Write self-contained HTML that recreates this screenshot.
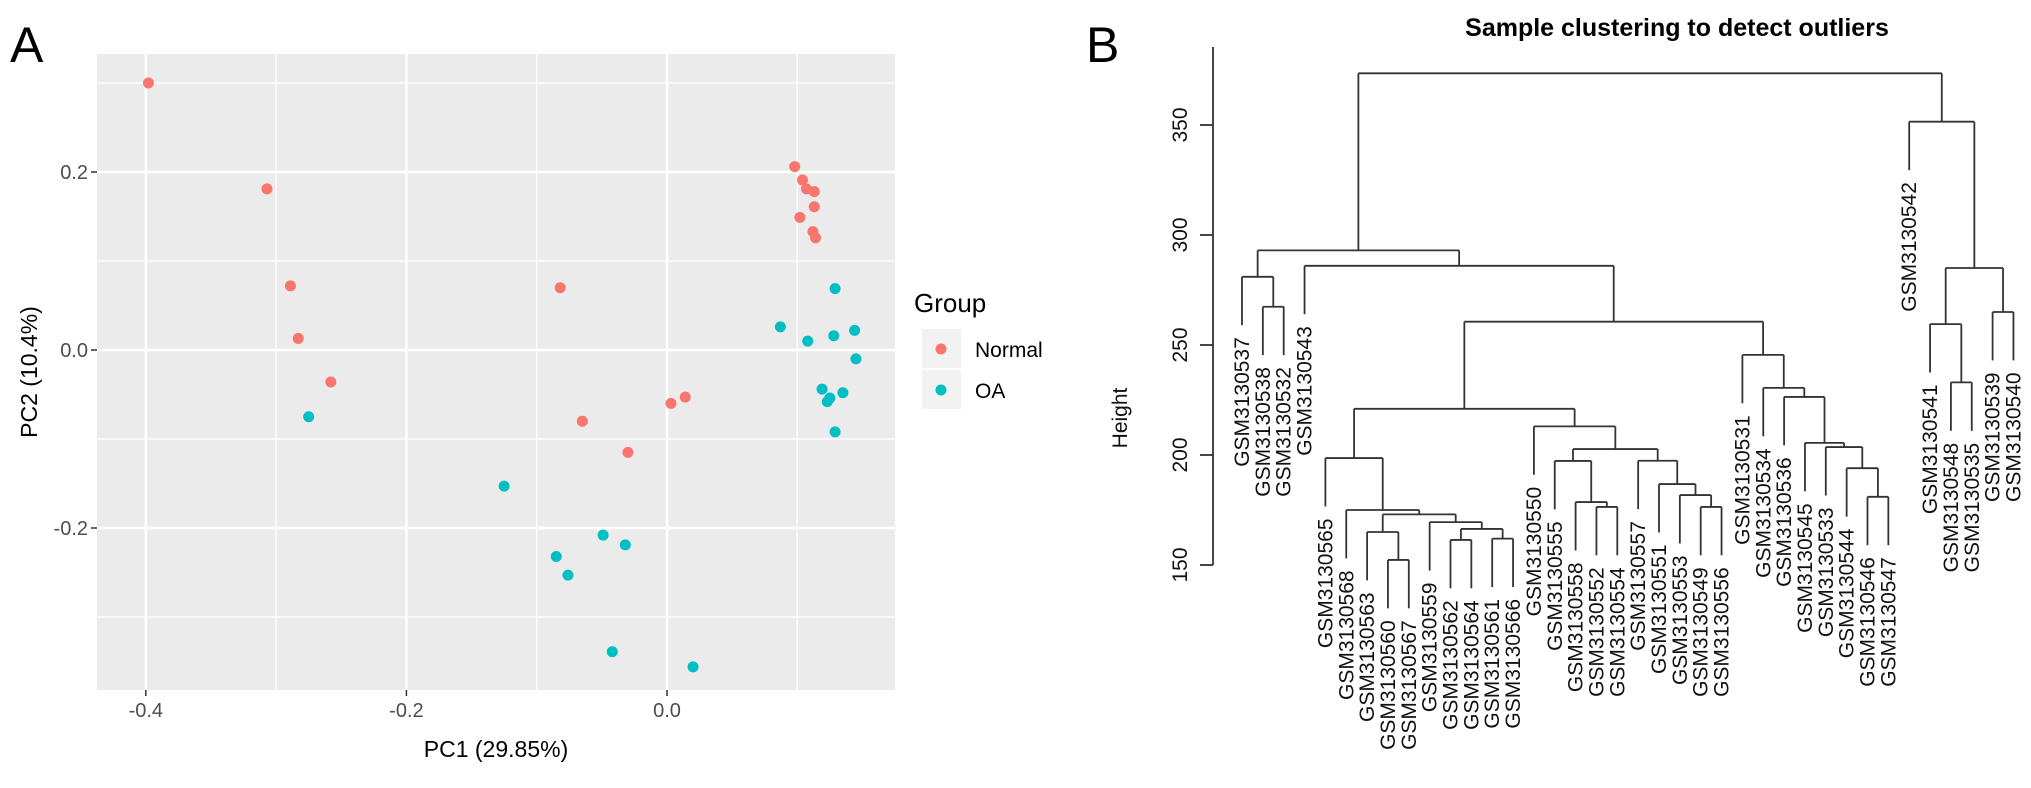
<!DOCTYPE html>
<html><head><meta charset="utf-8"><style>
body{margin:0;background:#fff;}
svg{display:block;font-family:"Liberation Sans",Arial,sans-serif;}
</style></head><body>
<svg id="fig" width="2031" height="788" viewBox="0 0 2031 788">
<text x="10" y="62" font-size="50">A</text>
<text x="1086" y="62" font-size="50">B</text>
<g id="pca"></g>
<g id="dend"></g>
</svg>
<script>
// ---------- Panel A data ----------
const normalX=[-0.398,-0.307,-0.289,-0.283,-0.258,-0.082,-0.065,-0.030,0.003,0.014,0.098,0.104,0.107,0.113,0.113,0.102,0.112,0.114];
const normalY=[0.300,0.181,0.072,0.013,-0.036,0.070,-0.080,-0.115,-0.060,-0.053,0.206,0.191,0.181,0.178,0.161,0.149,0.133,0.126];
const oaX=[-0.275,-0.125,-0.049,-0.032,-0.085,-0.076,-0.042,0.020,0.087,0.129,0.108,0.128,0.144,0.145,0.119,0.135,0.125,0.123,0.129];
const oaY=[-0.075,-0.153,-0.208,-0.219,-0.232,-0.253,-0.339,-0.356,0.026,0.069,0.010,0.016,0.022,-0.010,-0.044,-0.048,-0.054,-0.058,-0.092];
const xTicks=[-0.4,-0.2,0.0];
const xTickLabels=["-0.4","-0.2","0.0"];
const yTicks=[-0.2,0.0,0.2];
const yTickLabels=["-0.2","0.0","0.2"];
const xMinor=[-0.3,-0.1,0.1];
const yMinor=[-0.3,-0.1,0.1,0.3];

// ---------- Panel B data ----------
const dendHeights=[150,200,250,300,350];
const tree=[[["GSM3130537",["GSM3130538","GSM3130532",267.4],281],
 ["GSM3130543",
  [[[ "GSM3130565",["GSM3130568",[["GSM3130563",["GSM3130560","GSM3130567",152.3],165],["GSM3130559",[["GSM3130562","GSM3130564",161.4],["GSM3130561","GSM3130566",162],166.4],169.5],173],175],198.6],
     ["GSM3130550",[["GSM3130555",["GSM3130558",["GSM3130552","GSM3130554",176.4],178.6],197.3],["GSM3130557",["GSM3130551",["GSM3130553",["GSM3130549","GSM3130556",176.4],181.8],186.8],197.4],202.7],213],221],
   ["GSM3130531",["GSM3130534",["GSM3130536",["GSM3130545",["GSM3130533",["GSM3130544",["GSM3130546","GSM3130547",181],194],203.6],205.5],226.4],230.5],245.5],260.6],286],293],
 ["GSM3130542",[["GSM3130541",["GSM3130548","GSM3130535",233],259.5],["GSM3130539","GSM3130540",265],285],351.5],373.5];
const hang=22;

const NS="http://www.w3.org/2000/svg";
function mk(parent,tag,attrs,text){const e=document.createElementNS(NS,tag);for(const k in attrs)e.setAttribute(k,attrs[k]);if(text!==undefined)e.textContent=text;parent.appendChild(e);return e;}

// ---------- Panel A ----------
const pca=document.getElementById('pca');
const PL=97,PR=895,PT=54,PB=690;
const sx=v=>667+v*1303;
const sy=v=>350-v*890;
const bg=mk(pca,'rect',{x:PL,y:PT,width:PR-PL,height:PB-PT,fill:'#EBEBEB'});


xMinor.forEach(v=>{const l=mk(pca,'line',{x1:sx(v),x2:sx(v),y1:PT,y2:PB,stroke:'#fff','stroke-width':1.2});

});
yMinor.forEach(v=>{const l=mk(pca,'line',{x1:PL,x2:PR,y1:sy(v),y2:sy(v),stroke:'#fff','stroke-width':1.2});

});
xTicks.forEach((v,i)=>{const l=mk(pca,'line',{x1:sx(v),x2:sx(v),y1:PT,y2:PB,stroke:'#fff','stroke-width':2.4});


const t=mk(pca,'line',{x1:sx(v),x2:sx(v),y1:PB,y2:PB+6,stroke:'#333','stroke-width':1.5});


const tx=mk(pca,'text',{x:sx(v),y:PB+27,'font-size':20,fill:'#4d4d4d','text-anchor':'middle'},xTickLabels[i]);

});
yTicks.forEach((v,i)=>{const l=mk(pca,'line',{x1:PL,x2:PR,y1:sy(v),y2:sy(v),stroke:'#fff','stroke-width':2.4});


const t=mk(pca,'line',{x1:PL-6,x2:PL,y1:sy(v),y2:sy(v),stroke:'#333','stroke-width':1.5});


const tx=mk(pca,'text',{x:PL-9,y:sy(v)+7,'font-size':20,fill:'#4d4d4d','text-anchor':'end'},yTickLabels[i]);

});
normalX.forEach((v,i)=>{const c=mk(pca,'circle',{cx:sx(v),cy:sy(normalY[i]),r:5.5,fill:'#F8766D'});

});
oaX.forEach((v,i)=>{const c=mk(pca,'circle',{cx:sx(v),cy:sy(oaY[i]),r:5.5,fill:'#00BFC4'});

});
const xt=mk(pca,'text',{x:496,y:757,'font-size':23,'text-anchor':'middle'},'PC1 (29.85%)');


const yt=mk(pca,'text',{x:0,y:0,'font-size':23,'text-anchor':'middle',transform:`translate(37,${(PT+PB)/2}) rotate(-90)`},'PC2 (10.4%)');


// legend
const lg=mk(pca,'g',{});


const lt=mk(lg,'text',{x:914,y:312,'font-size':26},'Group');


[['Normal','#F8766D',349],['OA','#00BFC4',390]].forEach(([n,c,y])=>{
 const e=mk(lg,'g',{});
 
 
 mk(e,'rect',{x:922,y:y-20,width:39,height:39,fill:'#F2F2F2'});
 mk(e,'circle',{cx:941,cy:y,r:5.5,fill:c});
 mk(e,'text',{x:975,y:y+8,'font-size':21},n);
});

// ---------- Panel B ----------
const dend=document.getElementById('dend');
const dy=h=>565-(h-150)*2.2;
const leafX0=1242,leafStep=20.85;
let leafIdx=0;
const ttl=mk(dend,'text',{x:1677,y:36,'font-size':25,'font-weight':'bold','text-anchor':'middle'},'Sample clustering to detect outliers');


const ax=mk(dend,'line',{x1:1213,x2:1213,y1:47,y2:dy(150),stroke:'#333','stroke-width':1.8});


dendHeights.forEach(h=>{
 const t=mk(dend,'line',{x1:1200,x2:1213,y1:dy(h),y2:dy(h),stroke:'#333','stroke-width':1.8});
 
 
 const tx=mk(dend,'text',{x:0,y:0,'font-size':21,'text-anchor':'middle',fill:'#111',transform:`translate(1187,${dy(h)}) rotate(-90)`},String(h));
 
 
});
const ht=mk(dend,'text',{x:0,y:0,'font-size':21,'text-anchor':'middle',fill:'#111',transform:'translate(1127,418) rotate(-90)'},'Height');


const pathG=mk(dend,'g',{stroke:'#333','stroke-width':1.8,fill:'none'});
function leaf(node,parentH){
 const x=leafX0+leafIdx*leafStep;leafIdx++;
 const yEnd=dy(parentH-hang);
 const l=mk(pathG,'line',{x1:x,x2:x,y1:dy(parentH),y2:yEnd});
 
 
 const t=mk(dend,'text',{x:0,y:0,'font-size':21,'text-anchor':'end',fill:'#111',transform:`translate(${x+7},${yEnd+12}) rotate(-90)`},node);
 
 
 return x;
}
function draw(node,parentH){
 if(typeof node==='string')return leaf(node,parentH);
 const h=node[2];
 const xl=draw(node[0],h), xr=draw(node[1],h);
 const xm=(xl+xr)/2;
 const b=mk(pathG,'line',{x1:xl,x2:xr,y1:dy(h),y2:dy(h)});
 
 
 if(parentH!==null){
  const v=mk(pathG,'line',{x1:xm,x2:xm,y1:dy(parentH),y2:dy(h)});
  
  
 }
 return xm;
}
draw(tree,null);
</script>
</body></html>
